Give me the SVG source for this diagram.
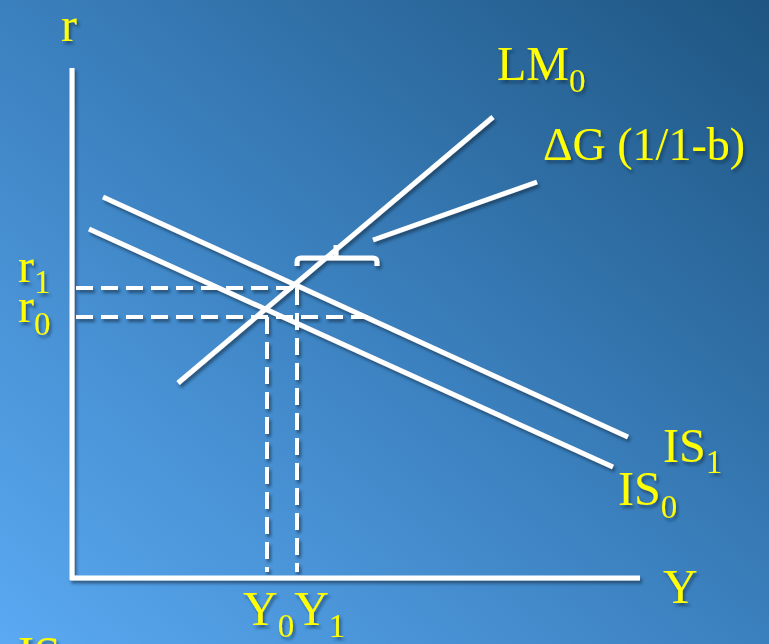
<svg xmlns="http://www.w3.org/2000/svg" width="769" height="644" viewBox="0 0 769 644">
<defs>
<linearGradient id="bg" x1="0" y1="1" x2="1" y2="0">
<stop offset="0" stop-color="#5aa9f2"/>
<stop offset="0.5" stop-color="#3b80be"/>
<stop offset="1" stop-color="#1e5581"/>
</linearGradient>
<filter id="sh" x="-10%" y="-10%" width="130%" height="130%">
<feDropShadow dx="2" dy="3" stdDeviation="1.5" flood-color="#102a44" flood-opacity="0.6"/>
</filter>
</defs>
<style>
.ln{stroke:#ffffff;stroke-width:5;fill:none}
.ds{stroke:#ffffff;stroke-width:4;fill:none;stroke-dasharray:17 8}
.t{font-family:"Liberation Serif","Times New Roman",serif;fill:#ffff00;font-size:48px}
.s{font-size:33px}
</style>
<rect width="769" height="644" fill="url(#bg)"/>
<g id="connectors" filter="url(#sh)">
<line class="ln" x1="72" y1="68" x2="72" y2="580"/>
<line class="ln" x1="70" y1="578" x2="640" y2="578"/>
<line class="ln" x1="178" y1="383" x2="493" y2="117"/>
<line class="ln" x1="373" y1="240" x2="537" y2="182"/>
<line class="ln" x1="103" y1="197" x2="628" y2="437"/>
<line class="ln" x1="89" y1="229" x2="613" y2="467"/>
<line class="ds" x1="76" y1="288" x2="300" y2="288"/>
<line class="ds" x1="76" y1="317" x2="372" y2="317"/>
<line class="ds" x1="267" y1="317" x2="267" y2="572"/>
<line class="ds" x1="297" y1="288" x2="297" y2="572"/>
<path class="ln" d="M297 266 V262 Q297 258 301 258 H373 Q377 258 377 262 V266"/>
<line class="ln" x1="336" y1="258" x2="336" y2="245"/>
</g>
<g id="labels" filter="url(#sh)">
<text class="t" x="61" y="41">r</text>
<text class="t" x="497" y="80">LM<tspan class="s" dy="12">0</tspan></text>
<text class="t" x="543" y="160" style="font-size:46px">ΔG (1/1-b)</text>
<text class="t" x="18" y="282">r<tspan class="s" dy="11">1</tspan></text>
<text class="t" x="18" y="322">r<tspan class="s" dy="13">0</tspan></text>
<text class="t" x="663" y="462">IS<tspan class="s" dy="11">1</tspan></text>
<text class="t" x="618" y="505">IS<tspan class="s" dy="13">0</tspan></text>
<text class="t" x="663" y="603">Y</text>
<text class="t" x="243" y="625">Y<tspan class="s" dy="12">0</tspan><tspan dy="-12">Y</tspan><tspan class="s" dy="12">1</tspan></text>
<text class="t" x="18" y="670">IS</text>
</g>
</svg>
